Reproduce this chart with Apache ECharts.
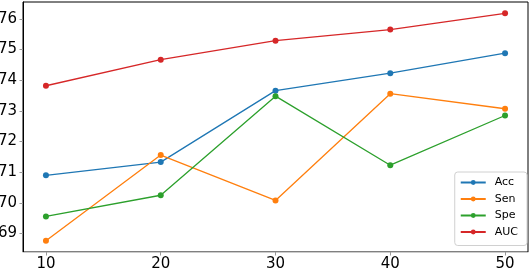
<!DOCTYPE html>
<html>
<head>
<meta charset="utf-8">
<script src="https://cdn.jsdelivr.net/npm/echarts@6/dist/echarts.min.js"></script>
<style>html,body{margin:0;padding:0;background:#fff;}#c{width:530px;height:270px;}</style>
</head>
<body>
<div id="c"></div>
<script>
var xValues = [10, 20, 30, 40, 50];
var acc = [70.90, 71.33, 73.66, 74.23, 74.88];
var sen = [68.77, 71.56, 70.08, 73.56, 73.07];
var spe = [69.56, 70.25, 73.48, 71.23, 72.85];
var auc = [73.82, 74.67, 75.29, 75.65, 76.18];
var seriesNames = ['Acc', 'Sen', 'Spe', 'AUC'];
var colors = ['#1f77b4', '#ff7f0e', '#2ca02c', '#d62728'];
var xTicks = [10, 20, 30, 40, 50];
var yTicks = [69, 70, 71, 72, 73, 74, 75, 76];

function pairs(vals) { return xValues.map(function (x, i) { return [x, vals[i]]; }); }
var allData = [acc, sen, spe, auc];
var chart = echarts.init(document.getElementById('c'), null, {renderer: 'canvas'});
var font = 'DejaVu Sans';
chart.setOption({
  animation: false,
  backgroundColor: '#fff',
  grid: {left: 23, right: 2, top: 2, bottom: 18, containLabel: false, outerBoundsMode: 'none',
         show: true, borderColor: '#000', borderWidth: 1, backgroundColor: 'transparent'},
  xAxis: {
    type: 'value', min: 8, max: 52,
    axisLine: {show: true, onZero: false, lineStyle: {color: '#cccccc', width: 1}},
    axisTick: {show: true, customValues: xTicks, length: 3.5, lineStyle: {color: '#999'}},
    axisLabel: {customValues: xTicks, fontFamily: font, fontSize: 15, color: '#000', margin: 5},
    splitLine: {show: false}
  },
  yAxis: {
    type: 'value', min: 68.4, max: 76.55,
    axisLine: {show: true, lineStyle: {color: '#000', width: 1}},
    axisTick: {show: true, customValues: yTicks, length: 3.5, lineStyle: {color: '#999'}},
    axisLabel: {customValues: yTicks, fontFamily: font, fontSize: 15, color: '#000', margin: 6},
    splitLine: {show: false}
  },
  legend: {
    orient: 'vertical', right: 3, top: 172,
    data: seriesNames,
    backgroundColor: '#fff', borderColor: '#d0d0d0', borderWidth: 1, borderRadius: 3,
    padding: [5, 9, 8, 5],
    itemWidth: 25, itemHeight: 6, itemGap: 5.5,
    textStyle: {fontFamily: font, fontSize: 11, color: '#000', padding: [0, 0, 0, 4]}
  },
  series: seriesNames.map(function (n, i) {
    return {
      name: n, type: 'line', data: pairs(allData[i]),
      symbol: 'circle', symbolSize: 6,
      lineStyle: {color: colors[i], width: 1.3},
      itemStyle: {color: colors[i]}
    };
  })
});
</script>
</body>
</html>
